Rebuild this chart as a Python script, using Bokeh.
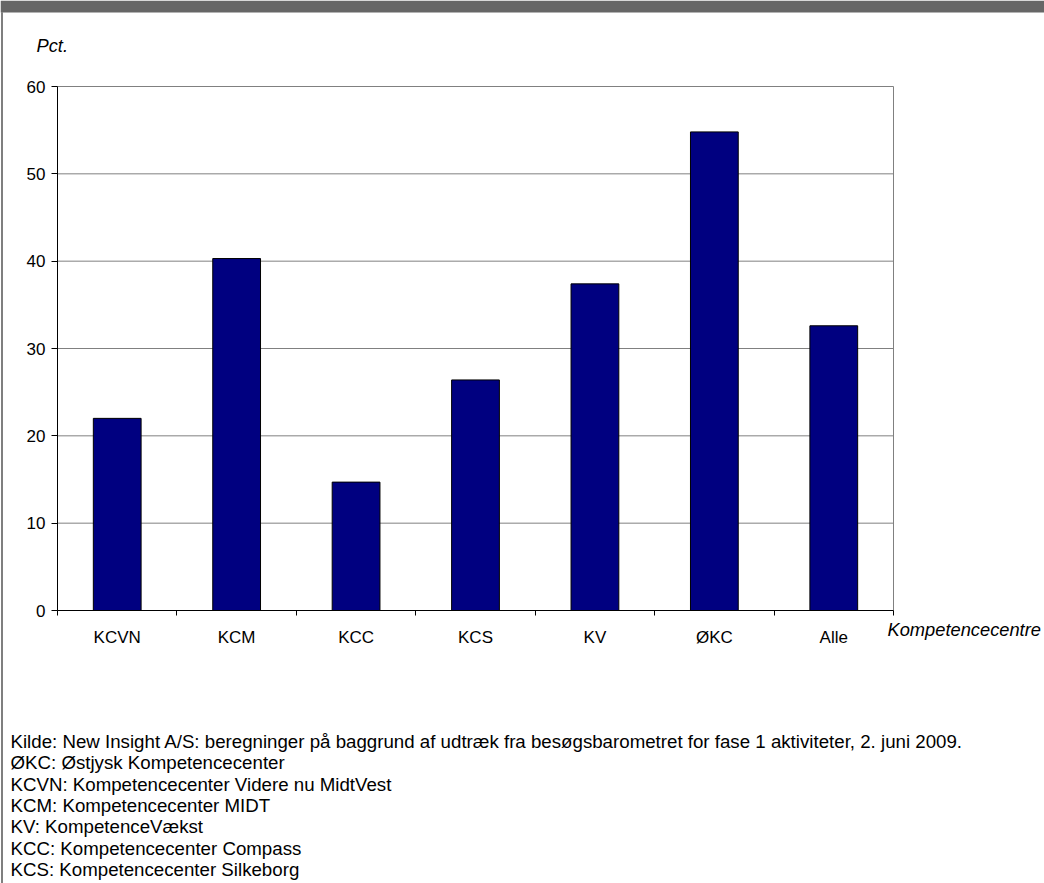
from bokeh.plotting import figure
from bokeh.models import Range1d, FixedTicker, Label, BoxAnnotation
from bokeh.embed import file_html
from bokeh.resources import INLINE

# Andel i procent for hvert kompetencecenter
categories = ["KCVN", "KCM", "KCC", "KCS", "KV", "ØKC", "Alle"]
values = [22.0, 40.3, 14.7, 26.4, 37.4, 54.8, 32.6]
y_ticks = [0, 10, 20, 30, 40, 50, 60]

notes = [
    "Kilde: New Insight A/S: beregninger på baggrund af udtræk fra besøgsbarometret for fase 1 aktiviteter, 2. juni 2009.",
    "ØKC: Østjysk Kompetencecenter",
    "KCVN: Kompetencecenter Videre nu MidtVest",
    "KCM: Kompetencecenter MIDT",
    "KV: KompetenceVækst",
    "KCC: Kompetencecenter Compass",
    "KCS: Kompetencecenter Silkeborg",
]

FONT = "Liberation Sans"
W, H = 1044, 883
# where the value area sits on the canvas (pixels from top-left)
AX_L, AX_R, AX_T, AX_B = 57, 893, 86, 610

n = len(categories)
y_max = y_ticks[-1]
centres = [i + 0.5 for i in range(n)]

# the frame fills the whole canvas; ranges are chosen so that the value
# area 0..n x 0..y_max lands on the pixel box above
px_x = (AX_R - AX_L) / n
px_y = (AX_B - AX_T) / y_max
x_range = Range1d(-AX_L / px_x, n + (W - AX_R) / px_x)
y_range = Range1d(-(H - AX_B) / px_y, y_max + AX_T / px_y)

p = figure(width=W, height=H, output_backend="svg", toolbar_location=None,
           x_range=x_range, y_range=y_range, min_border=0)
p.background_fill_color = "white"
p.border_fill_color = "white"
p.outline_line_color = None
p.xgrid.grid_line_color = None
p.ygrid.grid_line_color = None

GRID = "#808080"
# horizontal grid lines and right edge of the value area
p.segment(x0=0, x1=n, y0=y_ticks[1:], y1=y_ticks[1:], line_color=GRID,
          line_width=1)
p.segment(x0=[n], x1=[n], y0=[0], y1=[y_max], line_color=GRID, line_width=1)

# bars, one per category slot
p.vbar(x=centres, top=values, width=0.4, fill_color="#000080",
       line_color="black", line_width=1)

# y axis pinned at x = 0
yax = p.yaxis[0]
yax.fixed_location = 0
yax.bounds = (0, y_max)
yax.ticker = FixedTicker(ticks=y_ticks)
yax.axis_line_color = "black"
yax.major_tick_line_color = "black"
yax.major_tick_out = 6
yax.major_tick_in = 0
yax.minor_tick_line_color = None
yax.major_label_text_font = FONT
yax.major_label_text_font_size = "17px"
yax.major_label_text_color = "black"
yax.major_label_standoff = 6

# x axis pinned at y = 0: ticks between categories, labels at centres
xax = p.xaxis[0]
xax.fixed_location = 0
xax.bounds = (0, n)
xax.ticker = FixedTicker(ticks=centres, minor_ticks=list(range(n + 1)))
xax.major_label_overrides = {c: t for c, t in zip(centres, categories)}
xax.axis_line_color = "black"
xax.major_tick_line_color = None
xax.minor_tick_line_color = "black"
xax.minor_tick_out = 5
xax.minor_tick_in = 0
xax.major_label_text_font = FONT
xax.major_label_text_font_size = "17px"
xax.major_label_text_color = "black"
xax.major_label_standoff = 11


def sx(cx):
    return cx


def sy(cy):
    return H - cy


# grey band across the top and thin frame line on the left
p.add_layout(BoxAnnotation(left=sx(0), right=sx(W), bottom=sy(12), top=sy(0),
                           left_units="screen", right_units="screen",
                           bottom_units="screen", top_units="screen",
                           fill_color="#666666", fill_alpha=1, line_color=None,
                           level="overlay"))
p.add_layout(BoxAnnotation(left=sx(1), right=sx(2), bottom=sy(H), top=sy(12),
                           left_units="screen", right_units="screen",
                           bottom_units="screen", top_units="screen",
                           fill_color="black", fill_alpha=1, line_color=None,
                           level="overlay"))

p.add_layout(Label(x=sx(36), y=sy(45), x_units="screen", y_units="screen",
                   text="Pct.", text_font=FONT, text_font_size="18.3px",
                   text_font_style="italic", text_baseline="middle",
                   text_color="black"))
p.add_layout(Label(x=sx(887), y=sy(629), x_units="screen", y_units="screen",
                   text="Kompetencecentre", text_font=FONT,
                   text_font_size="18.3px", text_font_style="italic",
                   text_baseline="middle", text_color="black"))

for i, line in enumerate(notes):
    p.add_layout(Label(x=sx(10), y=sy(741 + i * 21.3), x_units="screen",
                       y_units="screen", text=line, text_font=FONT,
                       text_font_size="18.7px", text_baseline="middle",
                       text_color="black"))

open("out.html", "w").write(file_html(p, INLINE))
